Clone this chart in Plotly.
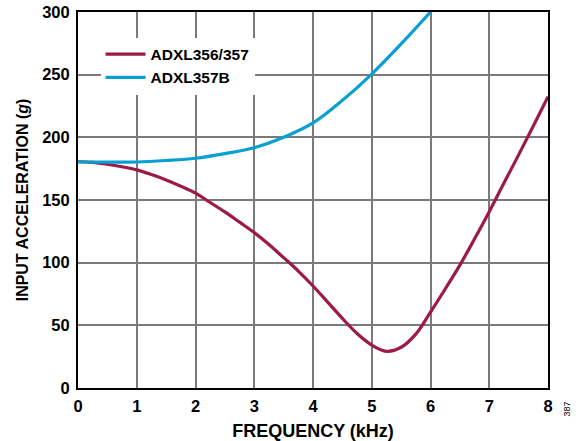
import plotly.graph_objects as go

freq_red = [0, 0.25, 0.5, 0.75, 1, 1.25, 1.5, 1.75, 2, 2.25, 2.5, 2.75, 3, 3.25, 3.5, 3.75, 4, 4.25, 4.5, 4.75, 5, 5.25, 5.5, 5.75, 6, 6.25, 6.5, 6.75, 7, 7.25, 7.5, 7.75, 8]
accel_red = [180.5, 180, 178.5, 176.5, 174, 170.3, 166, 161, 155.5, 148, 140.5, 132.3, 124, 114.5, 104, 93.3, 81.4, 68.5, 55.5, 43.5, 34.3, 29.3, 32.5, 43, 60.5, 79, 98, 119, 140.7, 163.5, 186, 209, 232.5]

freq_blue = [0, 0.5, 1, 1.5, 2, 2.5, 3, 3.5, 4, 4.5, 5, 5.5, 6]
accel_blue = [180.5, 180.2, 180.3, 181.5, 183.3, 187, 191.7, 200, 211.5, 229.5, 250.5, 274.5, 300]

x_ticks = [0, 1, 2, 3, 4, 5, 6, 7, 8]
y_ticks = [0, 50, 100, 150, 200, 250, 300]

RED = "#9C1A47"
BLUE = "#0A9FD2"
FONT = "Liberation Sans, Arial, sans-serif"

fig = go.Figure()
fig.add_trace(go.Scatter(x=freq_red, y=accel_red, mode="lines", name="<b>ADXL356/357</b>",
                         line=dict(color=RED, width=3.2, shape="spline", smoothing=1.0)))
fig.add_trace(go.Scatter(x=freq_blue, y=accel_blue, mode="lines", name="<b>ADXL357B</b>",
                         line=dict(color=BLUE, width=3.2, shape="spline", smoothing=1.0)))

axis_common = dict(showgrid=True, gridcolor="#7a7a7a", gridwidth=1.5,
                   showline=True, linecolor="black", linewidth=2, mirror=True,
                   ticks="", zeroline=False, automargin=False,
                   ticklabeloverflow="allow",
                   tickfont=dict(family=FONT, size=16.5, color="black"))

fig.update_xaxes(range=[0, 8], tickvals=x_ticks, ticktext=[f"<b>{v}</b>" for v in x_ticks],
                 title=dict(text="<b>FREQUENCY (kHz)</b>", font=dict(family=FONT, size=18, color="black"), standoff=12),
                 ticklabelstandoff=2,
                 **axis_common)
fig.update_yaxes(range=[0, 300], tickvals=y_ticks, ticktext=[f"<b>{v}</b>" for v in y_ticks],
                 title=dict(text="<b>INPUT ACCELERATION (<i>g</i>)</b>", font=dict(family=FONT, size=16, color="black"), standoff=10),
                 ticklabelstandoff=3,
                 **axis_common)

fig.update_layout(
    width=585, height=441,
    margin=dict(l=78, r=37, t=12, b=53),
    plot_bgcolor="white", paper_bgcolor="white",
    showlegend=True,
    legend=dict(x=0.048, y=0.932, xanchor="left", yanchor="top",
                bgcolor="white", borderwidth=0,
                font=dict(family=FONT, size=15.5, color="black"),
                itemwidth=40, tracegroupgap=0),
    font=dict(family=FONT),
)

fig.add_annotation(text="387", x=1.0, y=0.0, xref="paper", yref="paper",
                   xshift=25, yshift=-31, showarrow=False, textangle=-90,
                   font=dict(family=FONT, size=9, color="black"))

fig.write_html("out.html", config={"displayModeBar": False},
               post_script="document.body.style.margin='0px';")
